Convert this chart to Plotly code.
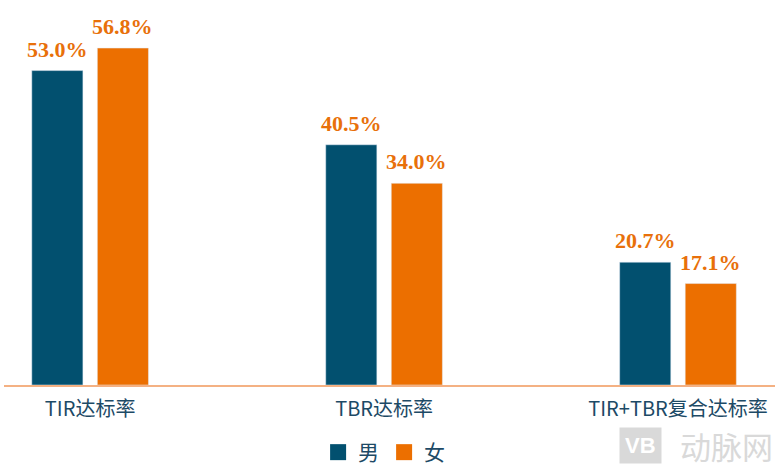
import plotly.graph_objects as go

categories = ["TIR达标率", "TBR达标率", "TIR+TBR复合达标率"]
male = [53.0, 40.5, 20.7]
female = [56.8, 34.0, 17.1]
series_names = ["男", "女"]

male_color = "#02506f"
female_color = "#ec6f00"
label_color = "#e8700a"
tick_color = "#1d4a66"

fig = go.Figure()
fig.add_trace(go.Bar(x=categories, y=male, name=series_names[0], marker_color=male_color,
                     showlegend=False, legendgroup="m"))
fig.add_trace(go.Bar(x=categories, y=female, name=series_names[1], marker_color=female_color,
                     showlegend=False, legendgroup="f"))
# legend entries with bigger square swatches
for nm, col, grp in ((series_names[0], male_color, "m"), (series_names[1], female_color, "f")):
    fig.add_trace(go.Scatter(x=[None], y=[None], mode="markers", name=nm, legendgroup=grp,
                             marker=dict(symbol="square", size=16, color=col)))

shift = 32.75
for vals, xs in ((male, -shift), (female, shift)):
    for c, v in zip(categories, vals):
        fig.add_annotation(x=c, y=v, text=f"<b>{v:.1f}%</b>", showarrow=False,
                           xshift=xs, yshift=7, yanchor="bottom",
                           font=dict(family="Liberation Serif", size=22, color=label_color),
                           )

# watermark
fig.add_annotation(xref="paper", yref="paper", x=1.0, y=-0.158, xanchor="right", yanchor="middle",
                   text="动脉网", showarrow=False,
                   font=dict(family="Noto Sans CJK SC", size=31, color="#d9d9d9"))
fig.add_annotation(xref="paper", yref="paper", x=0.826, y=-0.158, xanchor="center", yanchor="middle",
                   text="<b>VB</b>", showarrow=False, bgcolor="#d9d9d9",
                   font=dict(family="Liberation Sans", size=22, color="white"), borderpad=5)

fig.update_layout(
    width=775, height=473,
    margin=dict(l=4, r=0, t=0, b=86),
    plot_bgcolor="white", paper_bgcolor="white",
    barmode="group", bargap=0.554, bargroupgap=0.22,
    font=dict(family="Noto Sans CJK SC", size=20, color=tick_color),
    xaxis=dict(range=[-0.293, 2.33], showline=True, linecolor="#f4b183", linewidth=2,
               ticks="", showgrid=False, tickfont=dict(size=20, color=tick_color),
               ticklabelstandoff=5),
    yaxis=dict(range=[0, 64.9], visible=False, showgrid=False),
    legend=dict(orientation="h", x=0.493, xanchor="center", y=-0.176, yanchor="middle",
                font=dict(size=21, color=tick_color), itemwidth=30, itemsizing="trace"),
    showlegend=True,
)

fig.write_html("out.html", config={"displayModeBar": False},
               post_script="document.body.style.margin='0';document.body.style.overflow='hidden';")
